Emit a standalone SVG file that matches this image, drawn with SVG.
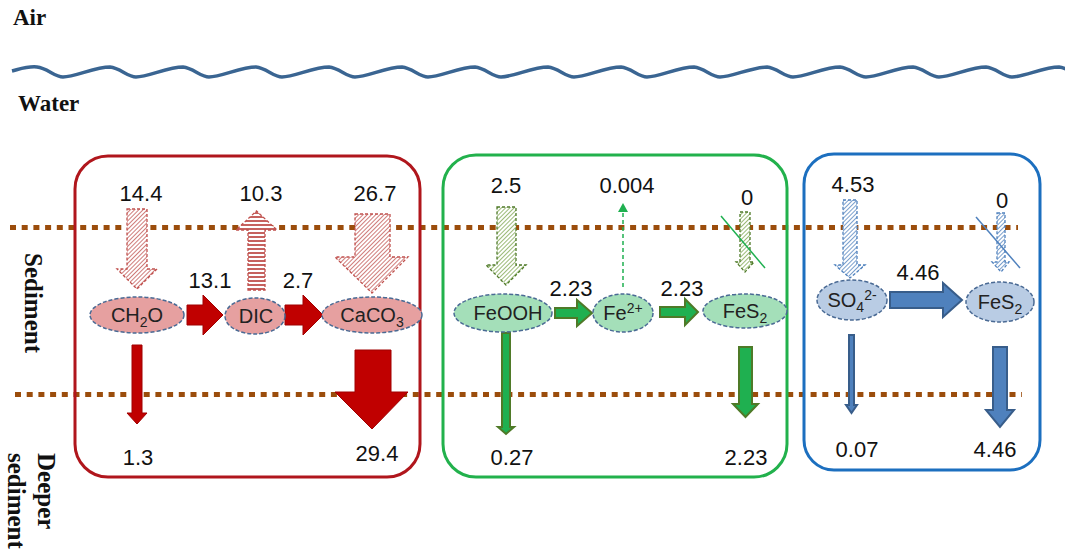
<svg xmlns="http://www.w3.org/2000/svg" width="1065" height="556" viewBox="0 0 1065 556">
<style>
.lbl{font-family:"Liberation Serif",serif;font-weight:bold;font-size:23px;fill:#111}
.side{font-family:"Liberation Serif",serif;font-weight:bold;font-size:25px;fill:#111}
.num{font-family:"Liberation Sans",Arial,sans-serif;font-size:22px;fill:#111;text-anchor:middle}
.nt{font-family:"Liberation Sans",Arial,sans-serif;font-size:20px;fill:#222;text-anchor:middle}
.dot{stroke:#9b4d0c;stroke-width:5;stroke-dasharray:6 5.7;fill:none}
.ell{stroke:#4a6a94;stroke-width:1.5;stroke-dasharray:4 2}
.er{fill:#e6a0a0}.eg{fill:#a4dfb9}.eb{fill:#b9cce4}
.ar{fill:#c00000;stroke:#a00000;stroke-width:1}
.ag{fill:#1fb050;stroke:#4f7a28;stroke-width:2}
.ab{fill:#4f81bd;stroke:#385d8a;stroke-width:2}
.hr{fill:url(#hatR);stroke:#c0504d;stroke-width:1.3;stroke-dasharray:3 2}
.hr2{fill:url(#strR);stroke:#c0504d;stroke-width:1.3;stroke-dasharray:3 2}
.hg{fill:url(#hatG);stroke:#4f7a28;stroke-width:1.3;stroke-dasharray:3 2}
.hb{fill:url(#hatB);stroke:#4f81bd;stroke-width:1.3;stroke-dasharray:3 2}
</style>
<defs>
<pattern id="hatR" patternUnits="userSpaceOnUse" width="3" height="3" patternTransform="rotate(45)"><rect width="3" height="3" fill="#fff"/><line x1="0" y1="0" x2="0" y2="3" stroke="#c0504d" stroke-width="1.5"/></pattern>
<pattern id="strR" patternUnits="userSpaceOnUse" width="4" height="4"><rect width="4" height="4" fill="#fff"/><line x1="0" y1="1" x2="4" y2="1" stroke="#c0504d" stroke-width="1.8"/></pattern>
<pattern id="hatG" patternUnits="userSpaceOnUse" width="3" height="3" patternTransform="rotate(45)"><rect width="3" height="3" fill="#fff"/><line x1="0" y1="0" x2="0" y2="3" stroke="#7aa34a" stroke-width="1.5"/></pattern>
<pattern id="hatB" patternUnits="userSpaceOnUse" width="3" height="3" patternTransform="rotate(45)"><rect width="3" height="3" fill="#fff"/><line x1="0" y1="0" x2="0" y2="3" stroke="#4f81bd" stroke-width="1.5"/></pattern>
</defs>

<g id="background">
<text class="lbl" x="13" y="25">Air</text>
<path d="M12,71 C20,69 28,66 37,67 c10,1 18,10 26,10 c12,0 32,-10 47,-10 c10,1 18,10 26,10 c12,0 32,-10 47,-10 c10,1 18,10 26,10 c12,0 32,-10 47,-10 c10,1 18,10 26,10 c12,0 32,-10 47,-10 c10,1 18,10 26,10 c12,0 32,-10 47,-10 c10,1 18,10 26,10 c12,0 32,-10 47,-10 c10,1 18,10 26,10 c12,0 32,-10 47,-10 c10,1 18,10 26,10 c12,0 32,-10 47,-10 c10,1 18,10 26,10 c12,0 32,-10 47,-10 c10,1 18,10 26,10 c12,0 32,-10 47,-10 c10,1 18,10 26,10 c12,0 32,-10 47,-10 c10,1 18,10 26,10 c12,0 32,-10 47,-10 c10,1 18,10 26,10 c12,0 32,-10 47,-10 c10,1 18,10 26,10 c12,0 32,-10 47,-10 c10,1 18,10 26,10 c12,0 32,-10 47,-10" fill="none" stroke="#3a6592" stroke-width="3.5"/>
<text class="lbl" x="18" y="111">Water</text>
<text class="side" transform="translate(25,253) rotate(90)">Sediment</text>
<text class="side" transform="translate(38,453) rotate(90)">Deeper</text>
<text class="side" transform="translate(8,453) rotate(90)">sediment</text>
<line class="dot" x1="10" y1="227.5" x2="1018" y2="227.5"/>
<line class="dot" x1="15" y1="394.5" x2="1022" y2="394.5"/>
</g>

<g id="boxes" fill="none" stroke-width="3">
<rect x="75" y="156" width="345" height="321" rx="33" stroke="#b0161c"/>
<rect x="443" y="155" width="344" height="322" rx="33" stroke="#22b14c"/>
<rect x="804" y="154" width="236" height="316" rx="30" stroke="#1c6fbf"/>
</g>

<g id="connectors">
<polygon class="hr" points="127,209 147,209 147,269 157,269 137,289 117,269 127,269"/>
<polygon class="hr2" points="248,290 265,290 265,230 277,230 256.5,211 236,230 248,230"/>
<polygon class="hr" points="355,214 390,214 390,257 408,257 372,293 335,257 355,257"/>
<polygon class="ar" points="187,305 203,305 203,295 223,315 203,335 203,325 187,325"/>
<polygon class="ar" points="285,305 303,305 303,295 323,315 303,335 303,325 285,325"/>
<polygon class="ar" points="132,345 142,345 142,413 147,413 137,424 127,413 132,413"/>
<polygon class="ar" points="355,350 391,350 391,392 408,392 372,429 335,392 355,392"/>
<polygon class="hg" points="497,207 516,207 516,265 526,265 506,285 486,265 497,265"/>
<polygon class="ag" points="555,308 577,308 577,300 592,313 577,326 577,318 555,318"/>
<polygon class="ag" points="660,307 685,307 685,299 698,312 685,325 685,317 660,317"/>
<line x1="623" y1="287" x2="623" y2="211" stroke="#1fb050" stroke-width="1.5" stroke-dasharray="4 3"/>
<polygon points="618,212 623,203 628,212" fill="#1fb050"/>
<polygon class="hg" points="740,212 750,212 750,262 754,262 745,272 736,262 740,262"/>
<line x1="721" y1="216" x2="765" y2="268" stroke="#1fb050" stroke-width="1.5"/>
<polygon class="ag" points="502,333 510,333 510,427 514,427 506,434 498,427 502,427"/>
<polygon class="ag" points="739,347 752,347 752,404 758,404 745.5,417 733,404 739,404"/>
<polygon class="hb" points="843,200 857,200 857,265 865,265 850,278 835,265 843,265"/>
<polygon class="hb" points="997,213 1005,213 1005,262 1009,262 1001,272 992,262 997,262"/>
<line x1="976" y1="217" x2="1020" y2="268" stroke="#4f81bd" stroke-width="1.5"/>
<polygon class="ab" points="890,292 943,292 943,283 962,300 943,317 943,308 890,308"/>
<polygon class="ab" points="849,335 854,335 854,405 857,405 851.5,413 846,405 849,405" stroke-width="1"/>
<polygon class="ab" points="993,347 1007,347 1007,410 1014,410 1000,427 986,410 993,410"/>
</g>

<g id="labels">
<text class="num" x="141" y="201">14.4</text>
<text class="num" x="261" y="201">10.3</text>
<text class="num" x="375" y="201">26.7</text>
<text class="num" x="210" y="288">13.1</text>
<text class="num" x="298" y="288">2.7</text>
<text class="num" x="138" y="465">1.3</text>
<text class="num" x="377" y="461">29.4</text>
<text class="num" x="506" y="193">2.5</text>
<text class="num" x="627" y="193">0.004</text>
<text class="num" x="747" y="205">0</text>
<text class="num" x="571" y="296">2.23</text>
<text class="num" x="682" y="296">2.23</text>
<text class="num" x="512" y="465">0.27</text>
<text class="num" x="746" y="465">2.23</text>
<text class="num" x="853" y="192">4.53</text>
<text class="num" x="1002" y="208">0</text>
<text class="num" x="918" y="280">4.46</text>
<text class="num" x="857" y="457">0.07</text>
<text class="num" x="995" y="457">4.46</text>
</g>

<g id="node-ch2o"><ellipse class="ell er" cx="137" cy="315" rx="47" ry="18"/><text class="nt" x="137" y="322">CH<tspan font-size="14" dy="5">2</tspan><tspan dy="-5">O</tspan></text></g>
<g id="node-dic"><ellipse class="ell er" cx="255" cy="316" rx="30" ry="18"/><text class="nt" x="256" y="323">DIC</text></g>
<g id="node-caco3"><ellipse class="ell er" cx="372" cy="315" rx="50" ry="18"/><text class="nt" x="372" y="322">CaCO<tspan font-size="14" dy="5">3</tspan></text></g>
<g id="node-feooh"><ellipse class="ell eg" cx="503" cy="313" rx="49" ry="19"/><text class="nt" x="508" y="320">FeOOH</text></g>
<g id="node-fe2"><ellipse class="ell eg" cx="623" cy="313" rx="30" ry="19"/><text class="nt" x="623" y="320">Fe<tspan font-size="14" dy="-7">2+</tspan></text></g>
<g id="node-fes2-g"><ellipse class="ell eg" cx="745" cy="311" rx="42" ry="17"/><text class="nt" x="745" y="318">FeS<tspan font-size="14" dy="5">2</tspan></text></g>
<g id="node-so4"><ellipse class="ell eb" cx="852" cy="300" rx="35" ry="20"/><text class="nt" x="852" y="307">SO<tspan font-size="14" dy="5">4</tspan><tspan font-size="14" dy="-12">2-</tspan></text></g>
<g id="node-fes2-b"><ellipse class="ell eb" cx="1000" cy="302" rx="34" ry="20"/><text class="nt" x="1000" y="309">FeS<tspan font-size="14" dy="5">2</tspan></text></g>
</svg>
